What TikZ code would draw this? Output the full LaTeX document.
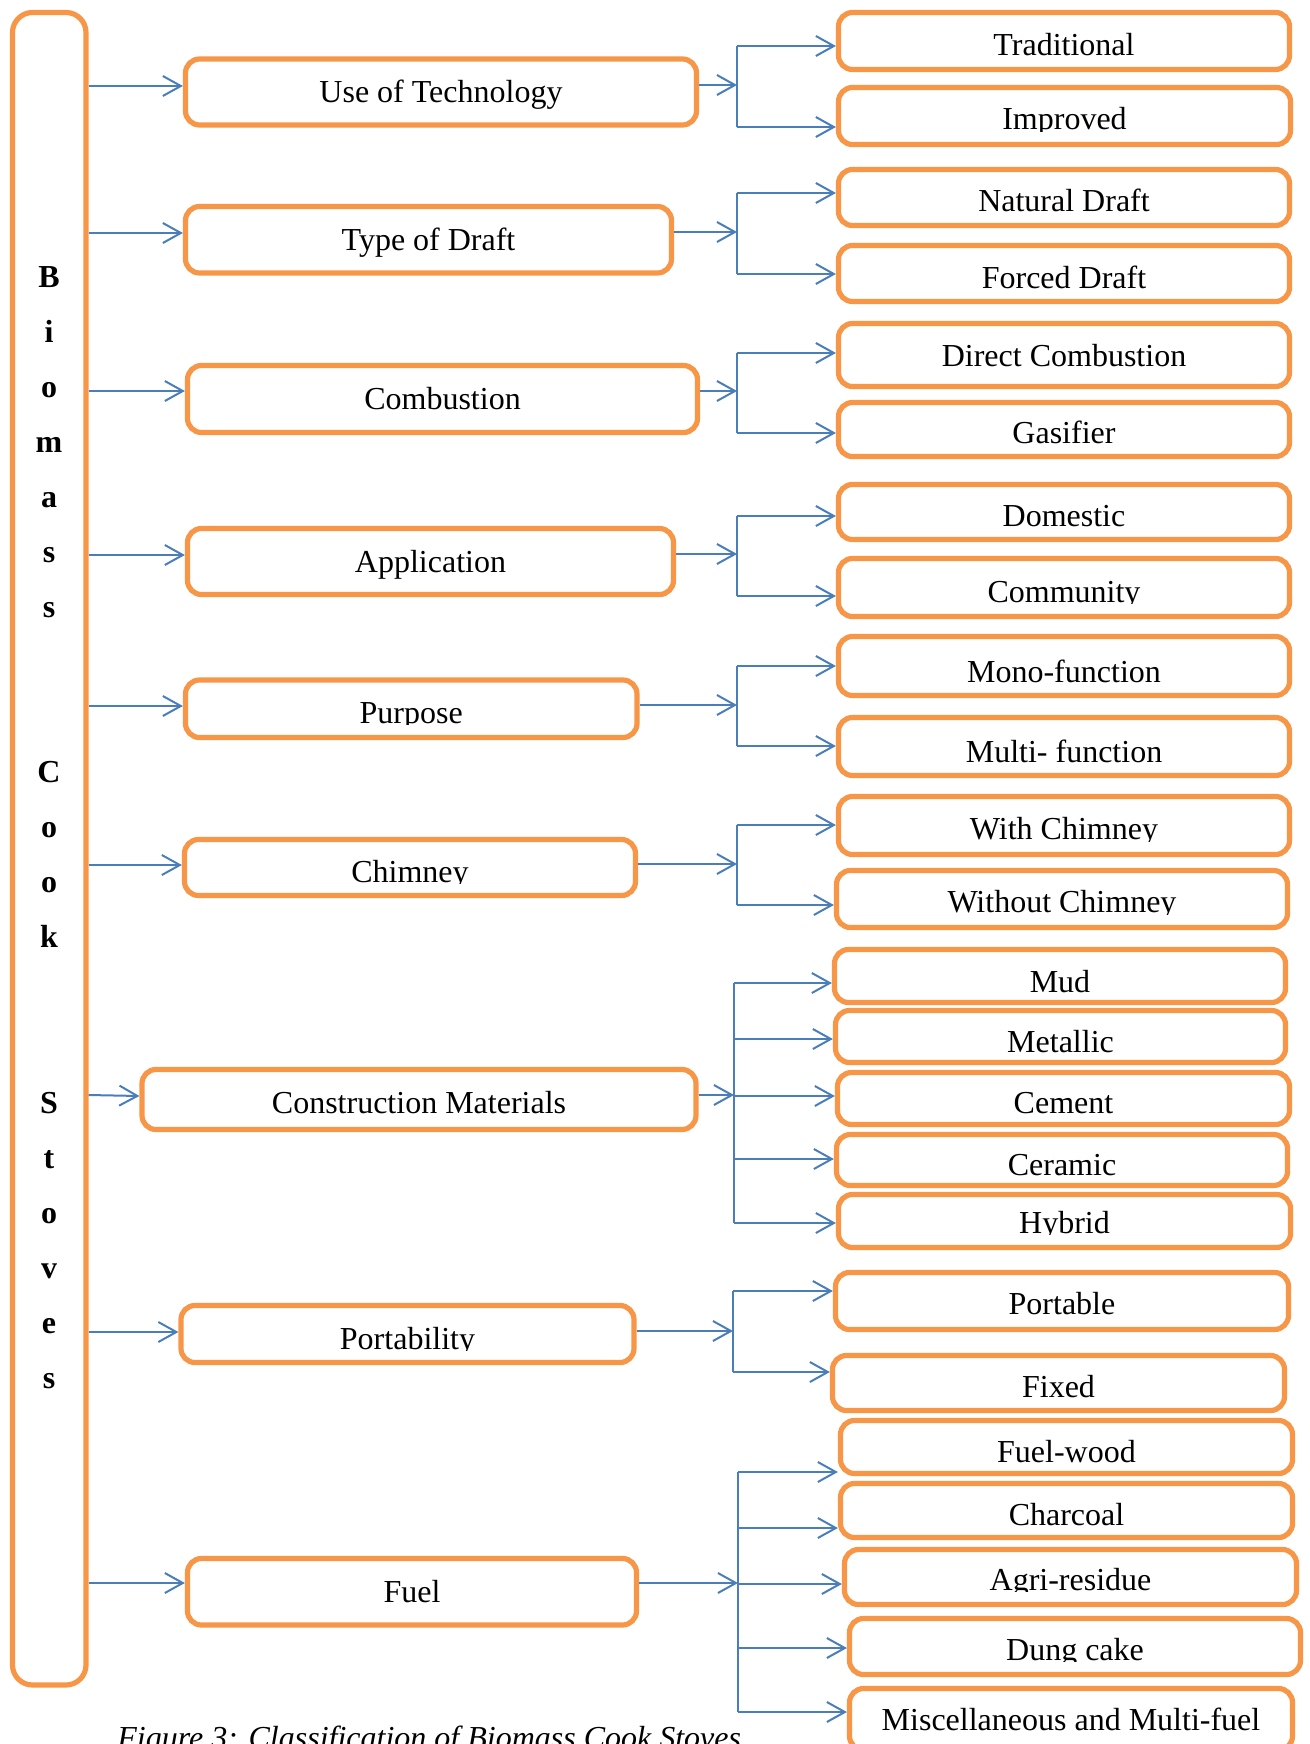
\documentclass[tikz,border=0pt]{standalone}
\usepackage{fontspec}
\setmainfont{Liberation Serif}
\usetikzlibrary{arrows.meta,fit}
\definecolor{boxorange}{HTML}{F79646}
\definecolor{linkblue}{HTML}{4A7EBB}
% #1 name, #2 x1, #3 y1, #4 x2, #5 y2, #6 text baseline, #7 clip bottom, #8 text
\newcommand\mkbx[8]{%
  \node[obox, fit={(#2,#3) (#4,#5)}] (#1) {};
  \begin{scope}
    \clip (#2,#3) rectangle (#4,#7);
    \node[lbl] (#1-t) at ({(#2+#4)/2},#6) {#8};
  \end{scope}}
\begin{document}
\begin{tikzpicture}[x=0.5pt,y=-0.5pt,
  obox/.style={draw=boxorange, line width=2.6pt, rounded corners=7pt, inner sep=0pt},
  lbl/.style={anchor=base, inner sep=0pt, font=\fontsize{16}{19}\selectfont},
  conn/.style={draw=linkblue, line width=1pt},
  arr/.style={conn, -{Straight Barb[length=9pt,width=10pt]}}]
\useasboundingbox (0,0) rectangle (1310,1744);

% left column box
\node[obox, rounded corners=10pt, fit={(12.5,12.5) (86,1685)}] (L) {};
\foreach \ch/\n in {B/0,i/1,o/2,m/3,a/4,s/5,s/6,C/9,o/10,o/11,k/12,S/15,t/16,o/17,v/18,e/19,s/20}
  \node[lbl, font=\fontsize{16}{19}\selectfont\bfseries] (ch\n) at (49,{287+55.07*\n}) {\ch};

% middle boxes
\mkbx{M1}{185.5}{59}{696.5}{125}{103}{125}{Use of Technology}
\mkbx{M2}{185.5}{206.5}{671.5}{273}{250}{273}{Type of Draft}
\mkbx{M3}{187.5}{365.5}{697.5}{432.5}{409}{432.5}{Combustion}
\mkbx{M4}{187.5}{528.5}{673.5}{594.5}{572}{594.5}{Application}
\mkbx{M5}{185.5}{680}{637}{737.5}{723}{724}{Purpose}
\mkbx{M6}{184.5}{839.5}{635.5}{895.5}{882}{883}{Chimney}
\mkbx{M7}{142}{1069.5}{696}{1129.5}{1113}{1129.5}{Construction Materials}
\mkbx{M8}{181}{1305.5}{634}{1362.5}{1349}{1350}{Portability}
\mkbx{M9}{187.5}{1558.5}{636.5}{1625}{1602}{1625}{Fuel}

% right boxes
\mkbx{R1}{838.5}{12.5}{1289.5}{69.5}{56}{69.5}{Traditional}
\mkbx{R2}{838.5}{87.5}{1290.5}{144.5}{130}{132}{Improved}
\mkbx{R3}{838.5}{169.5}{1289.5}{225.5}{212}{225.5}{Natural Draft}
\mkbx{R4}{838.5}{245.5}{1289.5}{301.5}{288}{301.5}{Forced Draft}
\mkbx{R5}{838.5}{323.5}{1289.5}{386.5}{366}{386.5}{Direct Combustion}
\mkbx{R6}{838.5}{402.5}{1289.5}{456.5}{443}{456.5}{Gasifier}
\mkbx{R7}{838.5}{484.5}{1289.5}{539.5}{526}{539.5}{Domestic}
\mkbx{R8}{838.5}{558.5}{1289.5}{616.5}{602}{603}{Community}
\mkbx{R9}{838.5}{636.5}{1289.5}{695.5}{682}{695.5}{Mono-function}
\mkbx{R10}{838.5}{717.5}{1289.5}{775.5}{762}{775.5}{Multi- function}
\mkbx{R11}{838.5}{796.5}{1289.5}{854.5}{839}{841}{With Chimney}
\mkbx{R12}{836.5}{870.5}{1287.5}{927.5}{912}{914}{Without Chimney}
\mkbx{R13}{834.5}{949.5}{1285.5}{1002.5}{992}{1002.5}{Mud}
\mkbx{R14}{835.5}{1010.5}{1285.5}{1062.5}{1052}{1062.5}{Metallic}
\mkbx{R15}{837.5}{1072.5}{1289.5}{1124.5}{1113}{1124.5}{Cement}
\mkbx{R16}{836.5}{1134.5}{1287.5}{1185.5}{1175}{1185.5}{Ceramic}
\mkbx{R17}{838.5}{1194.5}{1290.5}{1247.5}{1233}{1234}{Hybrid}
\mkbx{R18}{835.5}{1272.5}{1288.5}{1329.5}{1314}{1329.5}{Portable}
\mkbx{R19}{832.5}{1355.5}{1284.5}{1410.5}{1397}{1410.5}{Fixed}
\mkbx{R20}{840.5}{1420.5}{1292.5}{1473.5}{1462}{1473.5}{Fuel-wood}
\mkbx{R21}{840.5}{1483.5}{1292.5}{1537.5}{1525}{1537.5}{Charcoal}
\mkbx{R22}{844.5}{1549.5}{1296.5}{1604.5}{1590}{1591}{Agri-residue}
\mkbx{R23}{849.5}{1618.5}{1300.5}{1674.5}{1660}{1661}{Dung cake}
\mkbx{R24}{849.5}{1688.5}{1292.5}{1750}{1730}{1750}{Miscellaneous and Multi-fuel}

% caption
\node[lbl, font=\fontsize{16}{19}\selectfont\itshape, anchor=base west] (cap) at (117,1748) {Figure 3: Classification of Biomass Cook Stoves};

% row 1
\draw[arr] (L.east |- 0,86) -- (M1.west |- 0,86);
\coordinate (F1) at (737,85);
\draw[arr] (M1.east |- F1) -- (F1);
\draw[conn] (F1 |- 0,46) -- (F1 |- 0,127);
\draw[arr] (F1 |- 0,46) -- (R1.west |- 0,46);
\draw[arr] (F1 |- 0,127) -- (R2.west |- 0,127);
% row 2
\draw[arr] (L.east |- 0,233) -- (M2.west |- 0,233);
\coordinate (F2) at (737,232);
\draw[arr] (M2.east |- F2) -- (F2);
\draw[conn] (F2 |- 0,193) -- (F2 |- 0,274);
\draw[arr] (F2 |- 0,193) -- (R3.west |- 0,193);
\draw[arr] (F2 |- 0,274) -- (R4.west |- 0,274);
% row 3
\draw[arr] (L.east |- 0,391) -- (M3.west |- 0,391);
\coordinate (F3) at (737,391);
\draw[arr] (M3.east |- F3) -- (F3);
\draw[conn] (F3 |- 0,353) -- (F3 |- 0,433);
\draw[arr] (F3 |- 0,353) -- (R5.west |- 0,353);
\draw[arr] (F3 |- 0,433) -- (R6.west |- 0,433);
% row 4
\draw[arr] (L.east |- 0,555) -- (M4.west |- 0,555);
\coordinate (F4) at (737,554);
\draw[arr] (M4.east |- F4) -- (F4);
\draw[conn] (F4 |- 0,516) -- (F4 |- 0,596);
\draw[arr] (F4 |- 0,516) -- (R7.west |- 0,516);
\draw[arr] (F4 |- 0,596) -- (R8.west |- 0,596);
% row 5
\draw[arr] (L.east |- 0,706) -- (M5.west |- 0,706);
\coordinate (F5) at (737,705);
\draw[arr] (M5.east |- F5) -- (F5);
\draw[conn] (F5 |- 0,666) -- (F5 |- 0,746);
\draw[arr] (F5 |- 0,666) -- (R9.west |- 0,666);
\draw[arr] (F5 |- 0,746) -- (R10.west |- 0,746);
% row 6
\draw[arr] (L.east |- 0,865) -- (M6.west |- 0,865);
\coordinate (F6) at (737,864);
\draw[arr] (M6.east |- F6) -- (F6);
\draw[conn] (F6 |- 0,825) -- (F6 |- 0,905);
\draw[arr] (F6 |- 0,825) -- (R11.west |- 0,825);
\draw[arr] (F6 |- 0,905) -- (R12.west |- 0,905);
% row 7
\draw[arr] (L.east |- 0,1095) -- (M7.west |- 0,1096);
\coordinate (F7) at (734,1095);
\draw[arr] (M7.east |- F7) -- (F7);
\draw[conn] (F7 |- 0,983) -- (F7 |- 0,1223);
\draw[arr] (F7 |- 0,983) -- (R13.west |- 0,983);
\draw[arr] (F7 |- 0,1039) -- (R14.west |- 0,1039);
\draw[arr] (F7 |- 0,1096) -- (R15.west |- 0,1096);
\draw[arr] (F7 |- 0,1159) -- (R16.west |- 0,1159);
\draw[arr] (F7 |- 0,1223) -- (R17.west |- 0,1223);
% row 8
\draw[arr] (L.east |- 0,1332) -- (M8.west |- 0,1332);
\coordinate (F8) at (733,1331);
\draw[arr] (M8.east |- F8) -- (F8);
\draw[conn] (F8 |- 0,1291) -- (F8 |- 0,1372);
\draw[arr] (F8 |- 0,1291) -- (R18.west |- 0,1291);
\draw[arr] (F8 |- 0,1372) -- (R19.west |- 0,1372);
% row 9
\draw[arr] (L.east |- 0,1583) -- (M9.west |- 0,1583);
\coordinate (F9) at (738,1583);
\draw[arr] (M9.east |- F9) -- (F9);
\draw[conn] (F9 |- 0,1472) -- (F9 |- 0,1712);
\draw[arr] (F9 |- 0,1472) -- (R20.west |- 0,1472);
\draw[arr] (F9 |- 0,1528) -- (R21.west |- 0,1528);
\draw[arr] (F9 |- 0,1584) -- (R22.west |- 0,1584);
\draw[arr] (F9 |- 0,1648) -- (R23.west |- 0,1648);
\draw[arr] (F9 |- 0,1712) -- (R24.west |- 0,1712);
\end{tikzpicture}
\end{document}
